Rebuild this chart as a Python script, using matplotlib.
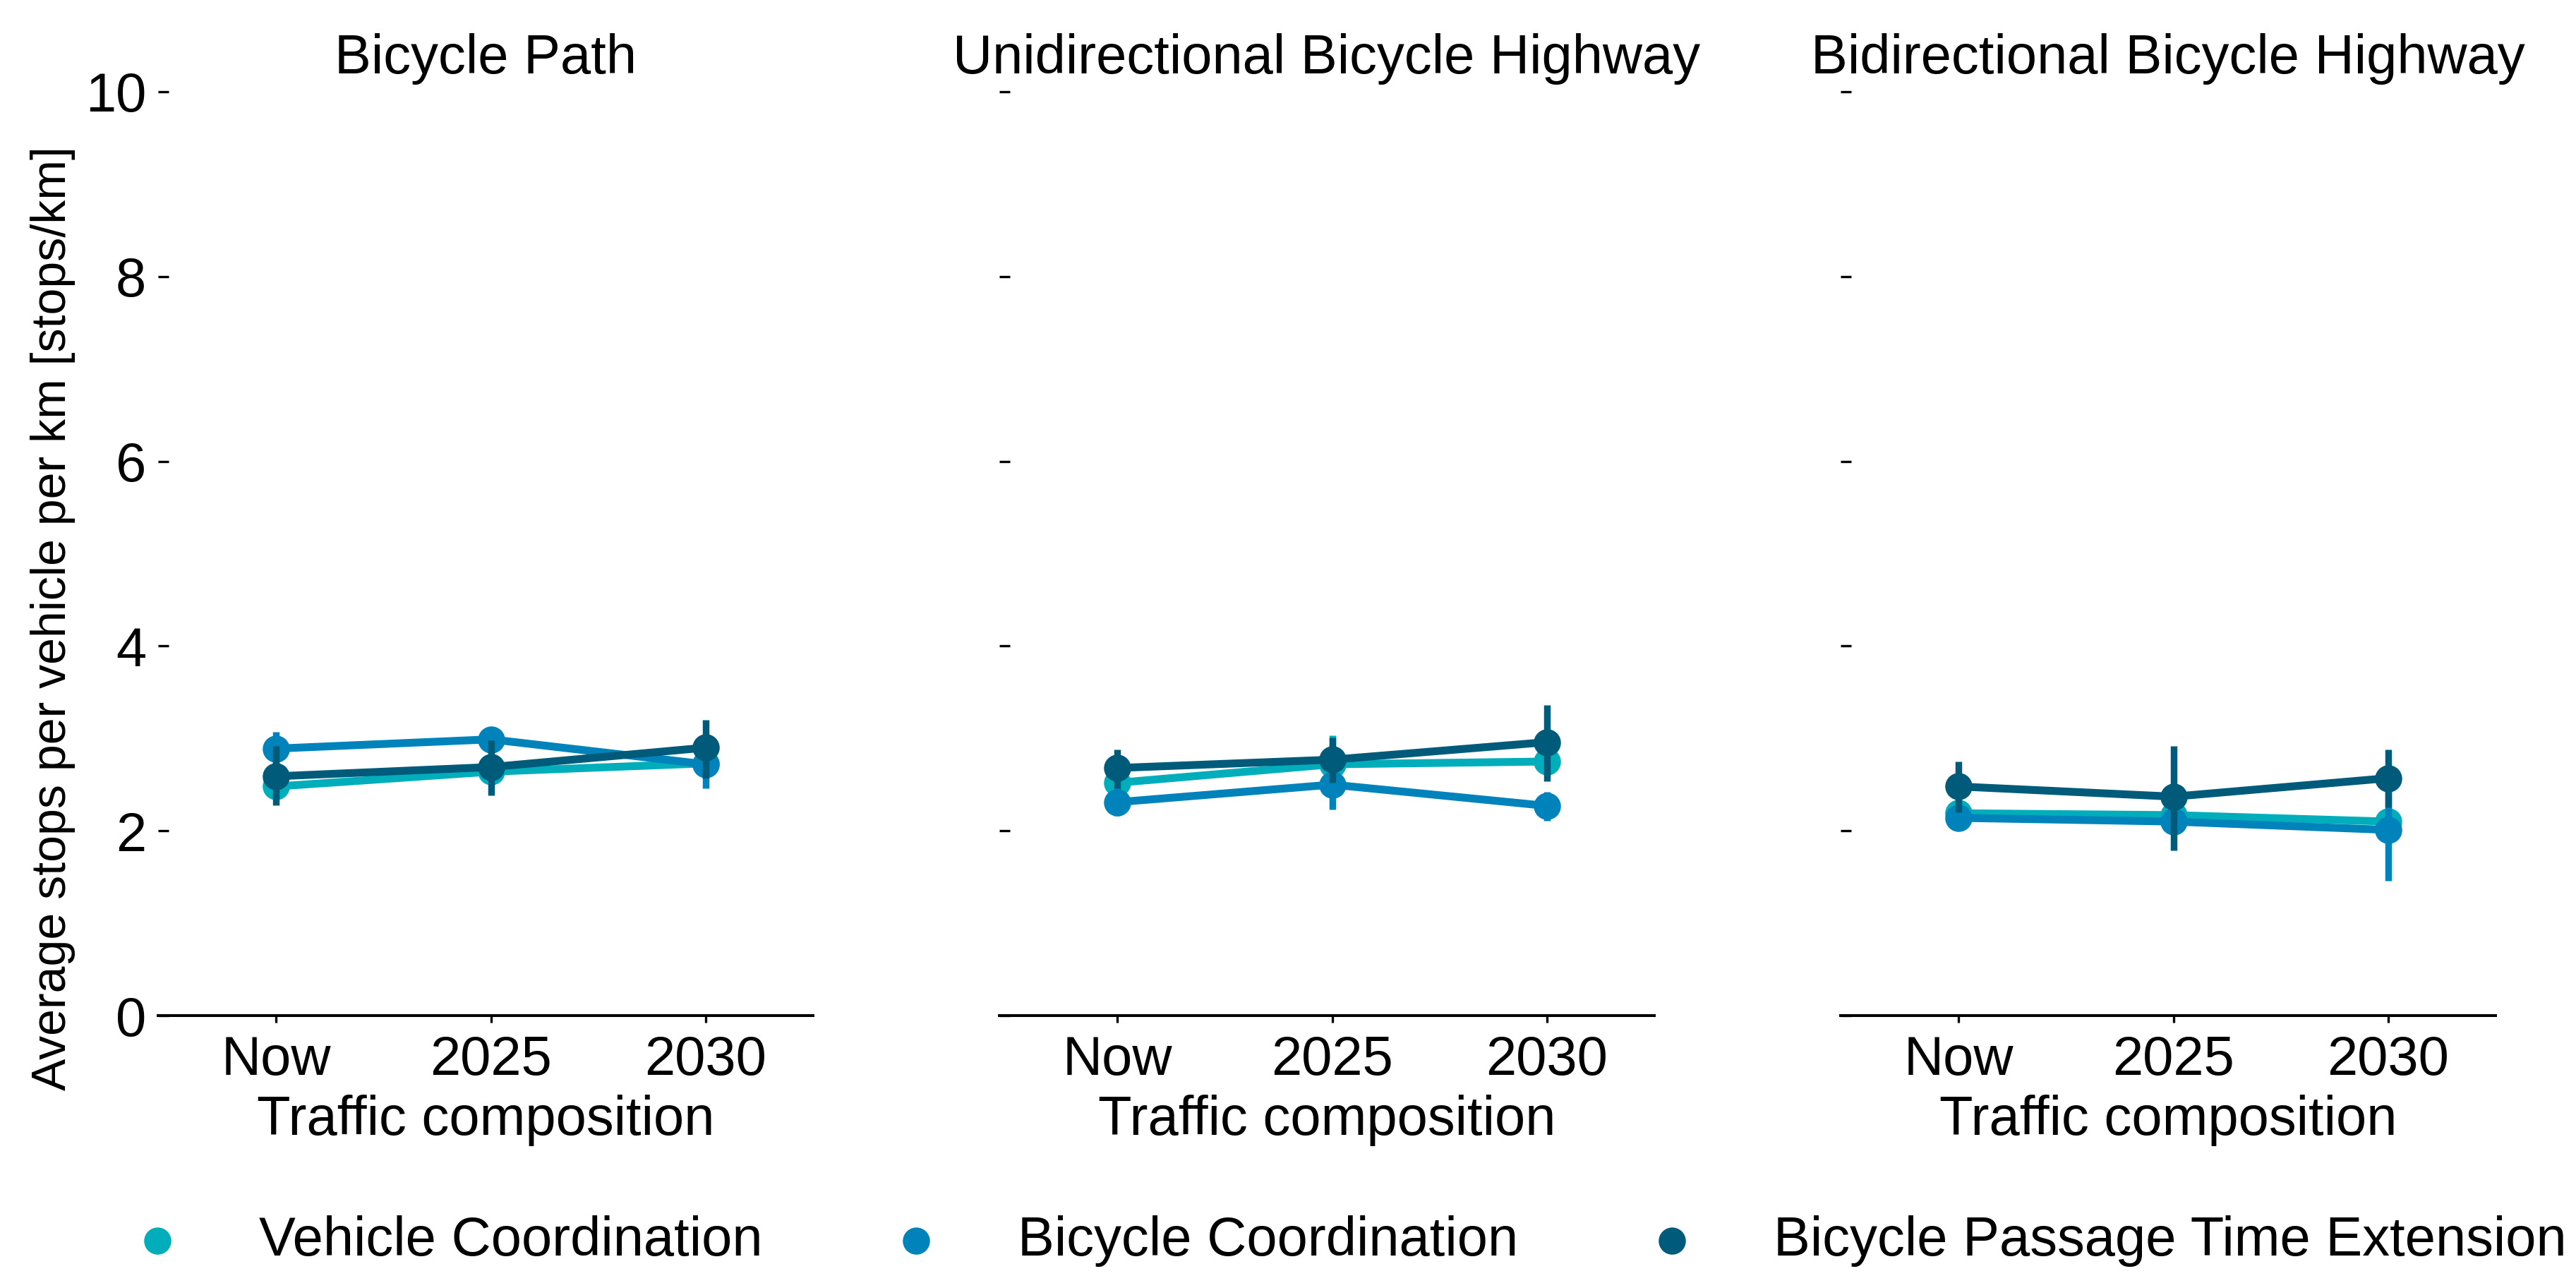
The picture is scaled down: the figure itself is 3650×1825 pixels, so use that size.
import matplotlib
matplotlib.use('Agg')
import matplotlib.pyplot as plt
import numpy as np

plt.rcParams['font.family'] = ['Liberation Sans', 'DejaVu Sans']

compositions = ['Now', '2025', '2030']
layouts = ['Bicycle Path', 'Unidirectional Bicycle Highway',
           'Bidirectional Bicycle Highway']
strategies = ['Vehicle Coordination', 'Bicycle Coordination',
              'Bicycle Passage Time Extension']
colors = ['#00adbb', '#0082ba', '#005b7a']

# average stops per vehicle per km, rows = strategies
path_mean = [[2.48, 2.64, 2.73], [2.89, 2.99, 2.72], [2.59, 2.69, 2.90]]
path_lo = [[2.38, 2.55, 2.62], [2.71, 2.92, 2.46], [2.28, 2.38, 2.57]]
path_hi = [[2.58, 2.73, 2.84], [3.07, 3.06, 2.98], [2.92, 2.98, 3.20]]

uni_mean = [[2.52, 2.72, 2.75], [2.31, 2.50, 2.27], [2.68, 2.77, 2.96]]
uni_lo = [[2.40, 2.45, 2.60], [2.16, 2.23, 2.11], [2.46, 2.52, 2.54]]
uni_hi = [[2.64, 3.03, 2.90], [2.46, 2.77, 2.42], [2.88, 3.01, 3.36]]

bi_mean = [[2.19, 2.17, 2.10], [2.14, 2.10, 2.01], [2.48, 2.37, 2.57]]
bi_lo = [[2.10, 2.05, 1.98], [2.06, 1.98, 1.46], [2.20, 1.79, 2.25]]
bi_hi = [[2.28, 2.29, 2.22], [2.22, 2.22, 2.50], [2.75, 2.92, 2.88]]

panels = [(path_mean, path_lo, path_hi),
          (uni_mean, uni_lo, uni_hi),
          (bi_mean, bi_lo, bi_hi)]

FS = 28

fig, axes = plt.subplots(1, 3, figsize=(18.25, 9.125), dpi=200, sharey=True)
fig.subplots_adjust(left=0.0613, right=0.9688, bottom=0.2115, top=0.9288,
                    wspace=0.284)

x = np.arange(len(compositions))
for ax, title, (mean, lo, hi) in zip(axes, layouts, panels):
    for j, name in enumerate(strategies):
        z = j + 1
        ax.plot(x, mean[j], color=colors[j], lw=4.0, zorder=z)
        ax.vlines(x, lo[j], hi[j], color=colors[j], lw=3.4, zorder=z)
        ax.scatter(x, mean[j], s=165, color=colors[j], zorder=z, label=name)

    ax.set_title(title, fontsize=FS, pad=9.4)
    ax.set_xlabel('Traffic composition', fontsize=FS, labelpad=4.3)
    ax.set_xticks(x)
    ax.set_xticklabels(compositions)
    ax.set_xlim(-0.55, 2.5)
    ax.set_ylim(0, 10)
    ax.set_yticks(np.arange(0, 11, 2))
    for side in ['top', 'right', 'left']:
        ax.spines[side].set_visible(False)
    ax.spines['bottom'].set_linewidth(1.44)
    ax.tick_params(axis='y', direction='in', length=5.4, width=1.2, pad=6,
                   labelsize=FS)
    ax.tick_params(axis='x', direction='out', length=3.6, width=1.2, pad=6,
                   labelsize=FS)

fig.text(0.0205, 0.52, 'Average stops per vehicle per km [stops/km]',
         rotation=90, ha='center', va='center', fontsize=24.5)

handles, labels = axes[0].get_legend_handles_labels()
fig.legend(handles, labels, loc='center', bbox_to_anchor=(0.518, 0.0367),
           ncol=3, frameon=False, fontsize=FS, handletextpad=0.85,
           columnspacing=1.8, scatterpoints=1)

fig.savefig('out.png', dpi=200)
